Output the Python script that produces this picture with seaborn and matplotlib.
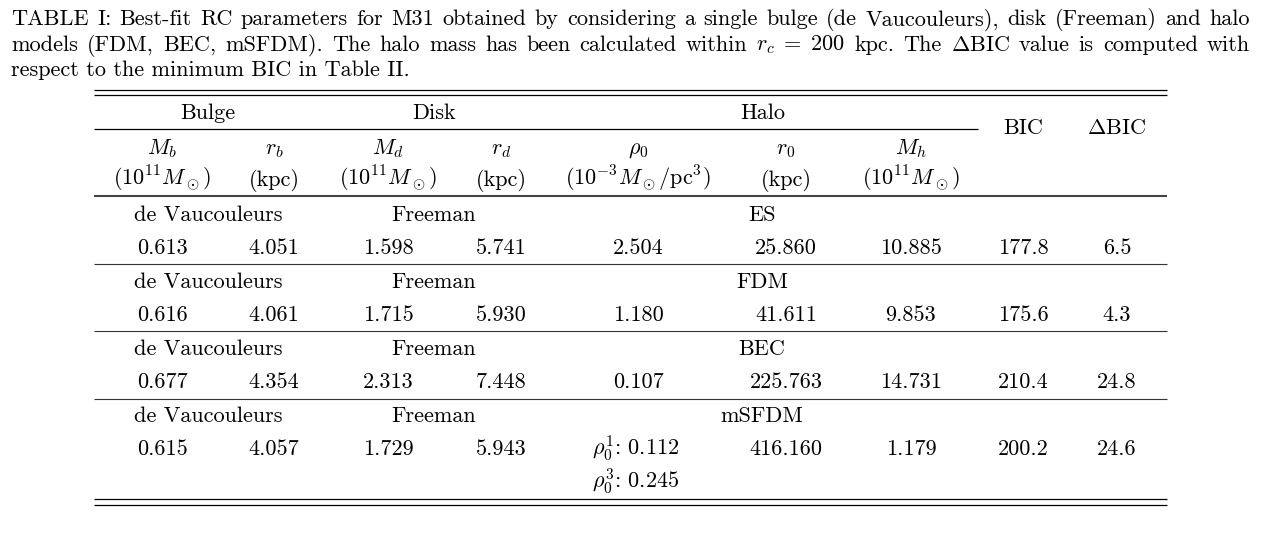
import numpy as np
import matplotlib
matplotlib.use('Agg')
import matplotlib.pyplot as plt
import seaborn as sns

# Data tabel (Tabel I, M31)
models = ['ES', 'FDM', 'BEC', 'mSFDM']
bulge_name = 'de Vaucouleurs'
disk_name = 'Freeman'
M_b = [0.613, 0.616, 0.677, 0.615]
r_b = [4.051, 4.061, 4.354, 4.057]
M_d = [1.598, 1.715, 2.313, 1.729]
r_d = [5.741, 5.930, 7.448, 5.943]
rho_0 = [2.504, 1.180, 0.107, None]
rho_msfdm = [0.112, 0.245]
r_0 = [25.860, 41.611, 225.763, 416.160]
M_h = [10.885, 9.853, 14.731, 1.179]
BIC = [177.8, 175.6, 210.4, 200.2]
dBIC = [6.5, 4.3, 24.8, 24.6]

groups = ['Bulge', 'Disk', 'Halo']
symbols = [r'$M_b$', r'$r_b$', r'$M_d$', r'$r_d$', r'$\rho_0$', r'$r_0$', r'$M_h$']
units = [r'$(10^{11}M_\odot)$', '(kpc)', r'$(10^{11}M_\odot)$', '(kpc)',
         r'$(10^{-3}M_\odot/$pc$^3)$', '(kpc)', r'$(10^{11}M_\odot)$']

caption = [
    ['TABLE', 'I:', 'Best-fit', 'RC', 'parameters', 'for', 'M31', 'obtained', 'by',
     'considering', 'a', 'single', 'bulge', '(de', 'Vaucouleurs),', 'disk',
     '(Freeman)', 'and', 'halo'],
    ['models', '(FDM,', 'BEC,', 'mSFDM).', 'The', 'halo', 'mass', 'has', 'been',
     'calculated', 'within', r'$r_c\;=\;200$', 'kpc.', 'The', r'$\Delta$BIC', 'value',
     'is', 'computed', 'with'],
    'respect to the minimum BIC in Table II.',
]

sns.set_theme(style='white')
plt.rcParams['font.family'] = ['cmr10', 'DejaVu Serif']
plt.rcParams['mathtext.fontset'] = 'cm'
plt.rcParams['axes.formatter.use_mathtext'] = True
FS = 16

fig = plt.figure(figsize=(12.64, 5.38), dpi=100)
ax = fig.add_axes([0, 0, 1, 1])
ax.set_xlim(0, 1264)
ax.set_ylim(538, 0)
ax.axis('off')
r = fig.canvas.get_renderer()


def tx(x, y, s, ha='center'):
    return ax.text(x, y, s, ha=ha, va='baseline', fontsize=FS, color='black')


def justify(words, y, x0, x1):
    ts = [tx(0, y, w, ha='left') for w in words]
    ws = [t.get_window_extent(r).width for t in ts]
    gap = (x1 - x0 - sum(ws)) / (len(words) - 1)
    x = x0
    for t, w in zip(ts, ws):
        t.set_x(x)
        x += w + gap


# Caption
justify(caption[0], 25.3, 11, 1250)
justify(caption[1], 50.7, 11, 1250)
tx(11, 76, caption[2], ha='left')

# kolom
col_x = [162, 274, 388, 501, 638, 786, 911, 1023, 1117]
group_x = [208, 434, 763]
L, R = 94, 1167

# garis
ax.hlines([89.7, 95.3], L, R, color='black', lw=0.9)
ax.hlines(129, L, 978, color='black', lw=0.9)
ax.hlines(196, L, R, color='#444444', lw=1.5)
ax.hlines([264, 331, 399], L, R, color='#333333', lw=0.8)
ax.hlines([499, 505], L, R, color='black', lw=0.9)

# header
for gx, g in zip(group_x, groups):
    tx(gx, 119, g)
tx(col_x[7], 134, 'BIC')
tx(col_x[8], 134, r'$\Delta$BIC')
for cx, s, u in zip(col_x, symbols, units):
    tx(cx, 154, s)
    tx(cx, 186, u)

# baris
for k, m in enumerate(models):
    yn = 221 + 67 * k
    yv = 254 + 67 * k
    tx(group_x[0], yn, bulge_name)
    tx(group_x[1], yn, disk_name)
    tx(group_x[2] - 1, yn, m)
    vals = [f'{M_b[k]:.3f}', f'{r_b[k]:.3f}', f'{M_d[k]:.3f}', f'{r_d[k]:.3f}',
            None, f'{r_0[k]:.3f}', f'{M_h[k]:.3f}', f'{BIC[k]:.1f}', f'{dBIC[k]:.1f}']
    for cx, v in zip(col_x, vals):
        if v is not None:
            tx(cx, yv, v)
    if rho_0[k] is not None:
        tx(col_x[4], yv, f'{rho_0[k]:.3f}')
    else:
        tx(col_x[4] - 2, yv, r'$\rho_0^1$: ' + f'{rho_msfdm[0]:.3f}')
        tx(col_x[4] - 2, yv + 33, r'$\rho_0^3$: ' + f'{rho_msfdm[1]:.3f}')

plt.savefig('out.png', dpi=100)
